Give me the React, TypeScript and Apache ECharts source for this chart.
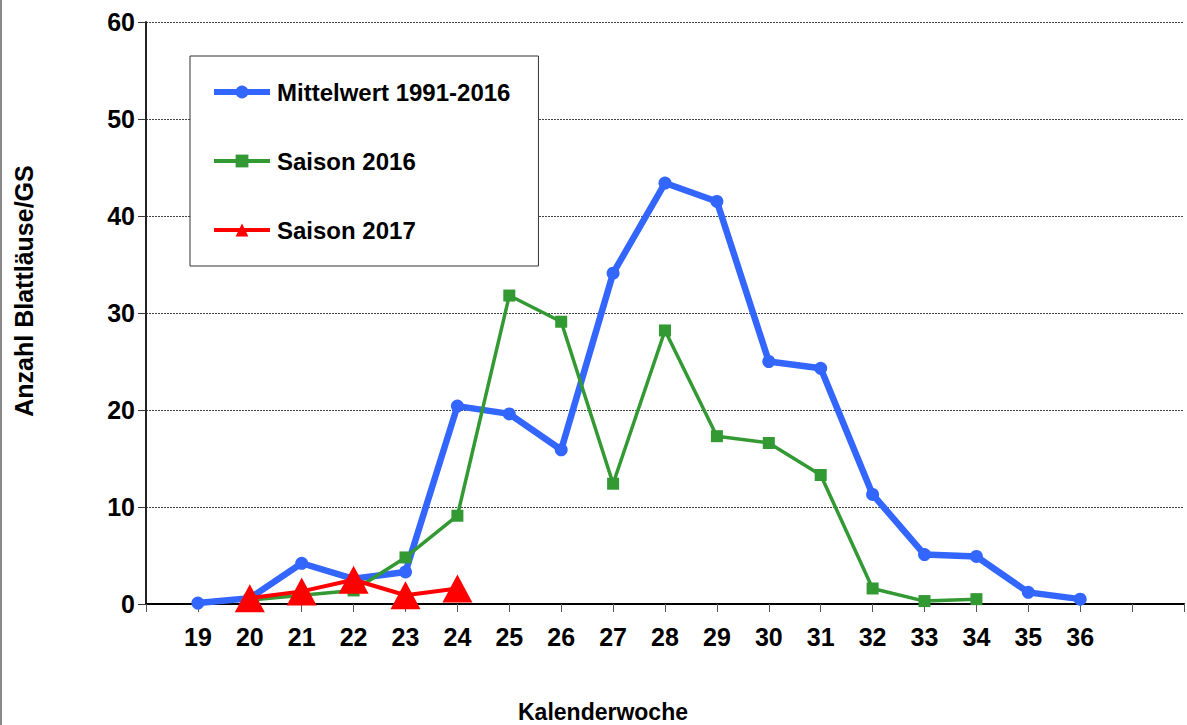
import React, { useEffect, useRef } from "react";
import * as echarts from "echarts";

const weeks = [19, 20, 21, 22, 23, 24, 25, 26, 27, 28, 29, 30, 31, 32, 33, 34, 35, 36];
const mittelwert = [0.1, 0.6, 4.2, 2.6, 3.3, 20.4, 19.6, 15.9, 34.1, 43.4, 41.5, 25.0, 24.3, 11.3, 5.1, 4.9, 1.2, 0.5];
const weeks2016 = [20, 21, 22, 23, 24, 25, 26, 27, 28, 29, 30, 31, 32, 33, 34];
const saison2016 = [0.4, 0.9, 1.4, 4.8, 9.1, 31.8, 29.1, 12.4, 28.2, 17.3, 16.6, 13.3, 1.6, 0.3, 0.5];
const weeks2017 = [20, 21, 22, 23, 24];
const saison2017 = [0.6, 1.3, 2.5, 0.9, 1.6];
const yTicks = [0, 10, 20, 30, 40, 50, 60];

const FONT = "Liberation Sans, Arial, sans-serif";

export default function App() {
  const ref = useRef<HTMLDivElement>(null);
  useEffect(() => {
    if (!ref.current) return;
    const chart = echarts.init(ref.current, null, { renderer: "svg" });
    const zip = (xs: number[], ys: number[]) => xs.map((x, i) => [x, ys[i]]);
    chart.setOption({
      animation: false,
      backgroundColor: "#fff",
      grid: { left: 146, top: 22, width: 1044, height: 582, containLabel: false },
      xAxis: [
        {
          type: "value",
          min: 18,
          max: 38,
          interval: 1,
          axisLine: { onZero: false, lineStyle: { color: "#333", width: 1.5 } },
          axisTick: { show: true, length: 8, lineStyle: { color: "#555", width: 1 } },
          splitLine: { show: false },
          axisLabel: {
            margin: 20,
            color: "#000",
            fontFamily: FONT,
            fontWeight: "bold",
            fontSize: 25,
            formatter: (v: number) => (weeks.includes(v) ? String(v) : ""),
          },
        },
        {
          type: "value",
          position: "top",
          min: 18,
          max: 38,
          interval: 1,
          axisLine: { show: true, lineStyle: { color: "#000", width: 2 } },
          axisTick: { show: false },
          axisLabel: { show: false },
          splitLine: { show: false },
        },
      ],
      yAxis: {
        type: "value",
        min: yTicks[0],
        max: yTicks[yTicks.length - 1],
        interval: 10,
        axisLine: { show: true, lineStyle: { color: "#222", width: 2 } },
        axisTick: { show: true, length: 8, lineStyle: { color: "#333" } },
        splitLine: { show: true, lineStyle: { color: "#444", type: [2, 1], width: 1 } },
        axisLabel: {
          margin: 11,
          color: "#000",
          fontFamily: FONT,
          fontWeight: "bold",
          fontSize: 25,
        },
      },
      legend: {
        orient: "vertical",
        left: 190,
        top: 56,
        width: 348,
        padding: [24, 28, 24, 21],
        itemGap: 45,
        itemWidth: 56,
        itemHeight: 16,
        borderColor: "#333",
        borderWidth: 1,
        backgroundColor: "#fff",
        textStyle: { fontFamily: FONT, fontWeight: "bold", fontSize: 24, color: "#000", padding: [0, 0, 0, 2] },
        data: [
          { name: "Mittelwert 1991-2016", lineStyle: { width: 6 } },
          { name: "Saison 2016", lineStyle: { width: 4 } },
          { name: "Saison 2017", lineStyle: { width: 4 } },
        ],
      },
      graphic: [
        {
          type: "text",
          x: 24,
          y: 291,
          rotation: Math.PI / 2,
          style: {
            text: "Anzahl Blattläuse/GS",
            fontFamily: FONT,
            fontWeight: "bold",
            fontSize: 25,
            fill: "#000",
            align: "center",
            verticalAlign: "middle",
          },
        },
        {
          type: "text",
          x: 603,
          y: 712,
          style: {
            text: "Kalenderwoche",
            fontFamily: FONT,
            fontWeight: "bold",
            fontSize: 23,
            fill: "#000",
            align: "center",
            verticalAlign: "middle",
          },
        },
        {
          type: "line",
          shape: { x1: 1, y1: 0, x2: 1, y2: 725 },
          style: { stroke: "#888", lineWidth: 2 },
        },
      ],
      series: [
        {
          name: "Mittelwert 1991-2016",
          type: "line",
          data: zip(weeks, mittelwert),
          color: "#3366ff",
          lineStyle: { width: 6.5, color: "#3366ff" },
          symbol: "circle",
          symbolSize: 13,
          itemStyle: { color: "#3366ff" },
          z: 2,
        },
        {
          name: "Saison 2016",
          type: "line",
          data: zip(weeks2016, saison2016),
          color: "#339933",
          lineStyle: { width: 3.5, color: "#339933" },
          symbol: "rect",
          symbolSize: 12,
          itemStyle: { color: "#339933" },
          z: 3,
        },
        {
          name: "Saison 2017",
          type: "line",
          data: zip(weeks2017, saison2017),
          color: "#ff0000",
          lineStyle: { width: 4, color: "#ff0000" },
          symbol: "triangle",
          symbolSize: [30, 28],
          itemStyle: { color: "#ff0000" },
          z: 4,
        },
      ],
    });
    return () => chart.dispose();
  }, []);
  return (
    <div
      ref={ref}
      style={{ position: "fixed", left: 0, top: 0, width: 1187, height: 725 }}
    />
  );
}
